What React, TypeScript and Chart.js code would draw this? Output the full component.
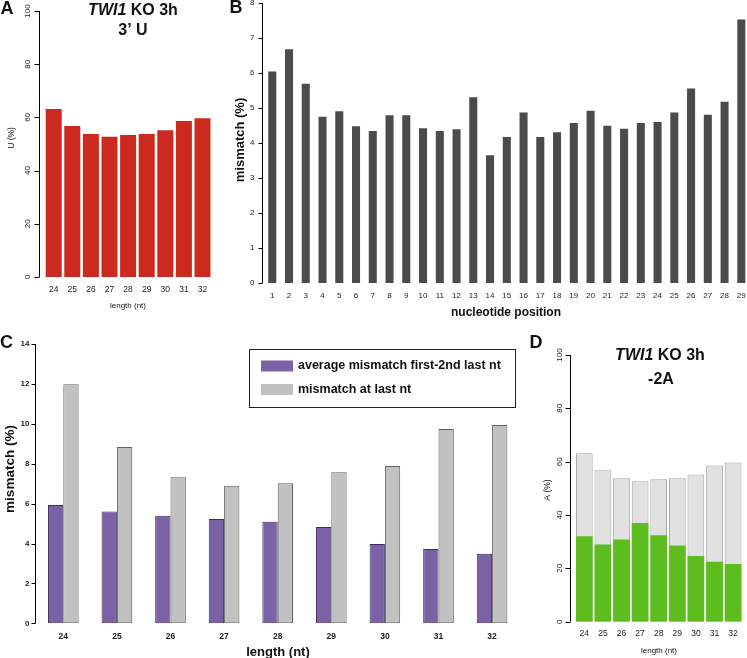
import React, { useEffect, useRef } from "react";
import { Chart, registerables } from "chart.js";

Chart.register(...registerables);

const FONT = "'Liberation Sans', Arial, Helvetica, sans-serif";
Chart.defaults.font.family = FONT;

// ---------- data ----------
const lengthLabels = ["24", "25", "26", "27", "28", "29", "30", "31", "32"];
// Panel A: 3' U (%)
const uPercent = [63.2, 56.8, 53.8, 52.7, 53.4, 53.8, 55.2, 58.6, 59.7];

// Panel B: mismatch by nucleotide position
const positionLabels = [
  "1", "2", "3", "4", "5", "6", "7", "8", "9", "10", "11", "12", "13", "14", "15",
  "16", "17", "18", "19", "20", "21", "22", "23", "24", "25", "26", "27", "28", "29",
];
const mismatchByPosition = [
  6.04, 6.68, 5.69, 4.75, 4.91, 4.48, 4.34, 4.79, 4.79, 4.42, 4.34, 4.39, 5.31, 3.65, 4.17,
  4.87, 4.17, 4.31, 4.57, 4.92, 4.49, 4.41, 4.57, 4.6, 4.87, 5.56, 4.81, 5.18, 7.53,
];

// Panel C: mismatch per length
const avgMismatch = [5.93, 5.6, 5.39, 5.23, 5.09, 4.83, 3.97, 3.72, 3.49];
const lastNtMismatch = [11.98, 8.84, 7.32, 6.9, 7.02, 7.57, 7.88, 9.74, 9.94];

// Panel D: -2A (%) over total
const dTotal = [63.2, 56.8, 53.8, 52.7, 53.4, 53.8, 55.2, 58.6, 59.7];
const aPercent = [32.0, 28.9, 30.8, 37.0, 32.4, 28.6, 24.6, 22.5, 21.6];

// ---------- layout helpers ----------
const CW = 752;
const CH = 658;
const XH = 30;

type Area = { l: number; t: number; r: number; b: number };

function layoutPadding(a: Area) {
  return { left: a.l, top: a.t, right: CW - a.r, bottom: CH - a.b - XH };
}

function xScale(fontSize: number, bold: boolean, pad: number, stacked = false) {
  return {
    type: "category" as const,
    offset: true,
    stacked,
    grid: { display: false, drawTicks: false },
    border: { display: false },
    ticks: {
      font: { size: fontSize, weight: bold ? "bold" : "normal", family: FONT },
      color: "#222",
      padding: pad,
      autoSkip: false,
      maxRotation: 0,
      minRotation: 0,
    },
    afterFit: (s: any) => {
      s.height = XH;
      s.paddingLeft = 0;
      s.paddingRight = 0;
    },
  };
}

function yScale(max: number, step: number) {
  return {
    display: false,
    min: 0,
    max,
    stacked: false,
    ticks: { stepSize: step },
  };
}

type AxisOpt = { gap: number; tickLen: number; rotate: boolean; labelDist: number; font: string };

function rAxisPlugin(o: AxisOpt) {
  return {
    id: "rAxis",
    afterDraw(chart: any) {
      const { ctx, chartArea } = chart;
      const ys = chart.scales.y;
      const x = Math.round(chartArea.left - o.gap) - 0.5;
      const vals: number[] = ys.ticks.map((t: any) => t.value);
      const top = ys.getPixelForValue(vals[vals.length - 1]);
      const bot = ys.getPixelForValue(vals[0]);
      ctx.save();
      ctx.strokeStyle = "#000";
      ctx.lineWidth = 1;
      ctx.beginPath();
      ctx.moveTo(x, top);
      ctx.lineTo(x, bot);
      vals.forEach((v) => {
        const py = Math.round(ys.getPixelForValue(v)) + 0.5;
        ctx.moveTo(x, py);
        ctx.lineTo(x - o.tickLen, py);
      });
      ctx.stroke();
      ctx.fillStyle = "#222";
      ctx.font = o.font;
      ctx.textBaseline = "middle";
      vals.forEach((v) => {
        const py = ys.getPixelForValue(v);
        if (o.rotate) {
          ctx.save();
          ctx.translate(x - o.labelDist, py);
          ctx.rotate(-Math.PI / 2);
          ctx.textAlign = "center";
          ctx.fillText(String(v), 0, 0);
          ctx.restore();
        } else {
          ctx.textAlign = "right";
          ctx.fillText(String(v), x - o.labelDist, py);
        }
      });
      ctx.restore();
    },
  };
}

type Part = { text: string; font: string };
type TextItem = { parts: Part[]; x: number; y: number; rotate?: boolean };

function textPlugin(items: TextItem[]) {
  return {
    id: "texts",
    afterDraw(chart: any) {
      const ctx = chart.ctx;
      ctx.save();
      ctx.fillStyle = "#111";
      ctx.textBaseline = "middle";
      ctx.textAlign = "left";
      for (const it of items) {
        let w = 0;
        for (const p of it.parts) {
          ctx.font = p.font;
          w += ctx.measureText(p.text).width;
        }
        ctx.save();
        ctx.translate(it.x, it.y);
        if (it.rotate) ctx.rotate(-Math.PI / 2);
        let cx = -w / 2;
        for (const p of it.parts) {
          ctx.font = p.font;
          ctx.fillText(p.text, cx, 0);
          cx += ctx.measureText(p.text).width;
        }
        ctx.restore();
      }
      ctx.restore();
    },
  };
}

const legendBoxPlugin = {
  id: "boxLegend",
  afterDraw(chart: any) {
    const ctx = chart.ctx;
    ctx.save();
    ctx.strokeStyle = "#222";
    ctx.lineWidth = 1;
    ctx.fillStyle = "#fff";
    ctx.fillRect(249.5, 349.5, 266, 58);
    ctx.strokeRect(249.5, 349.5, 266, 58);
    chart.data.datasets.forEach((ds: any, i: number) => {
      const cy = 366 + i * 23.5;
      ctx.fillStyle = ds.backgroundColor;
      ctx.fillRect(261, cy - 5.5, 32, 11);
      ctx.fillStyle = "#111";
      ctx.font = `bold 12.5px ${FONT}`;
      ctx.textBaseline = "middle";
      ctx.textAlign = "left";
      ctx.fillText(ds.label, 298, cy);
    });
    ctx.restore();
  },
};

const bold = (s: number) => `bold ${s}px ${FONT}`;
const boldItalic = (s: number) => `italic bold ${s}px ${FONT}`;
const normal = (s: number) => `${s}px ${FONT}`;

// ---------- chart configs ----------
const areaA: Area = { l: 44.4, t: 11, r: 211.8, b: 277 };
const areaB: Area = { l: 263.9, t: 3, r: 749.7, b: 283 };
const areaC: Area = { l: 36.5, t: 344, r: 518.9, b: 623.3 };
const areaD: Area = { l: 575, t: 355, r: 742.4, b: 621.7 };

function configA(): any {
  return {
    type: "bar",
    data: {
      labels: lengthLabels,
      datasets: [
        {
          label: "U (%)",
          data: uPercent,
          backgroundColor: "#cc2a1f",
          borderWidth: 0,
          barPercentage: 0.86,
          categoryPercentage: 1,
        },
      ],
    },
    options: {
      responsive: false,
      animation: false,
      layout: { padding: layoutPadding(areaA) },
      plugins: { legend: { display: false }, tooltip: { enabled: false } },
      scales: { x: xScale(8.5, false, 7.2), y: yScale(100, 20) },
    },
    plugins: [
      rAxisPlugin({ gap: 4.4, tickLen: 5, rotate: true, labelDist: 11.5, font: normal(8) }),
      textPlugin([
        { parts: [{ text: "A", font: bold(18) }], x: 7, y: 9 },
        { parts: [{ text: "TWI1", font: boldItalic(16) }, { text: " KO 3h", font: bold(16) }], x: 133, y: 10.5 },
        { parts: [{ text: "3’ U", font: bold(16) }], x: 133, y: 31 },
        { parts: [{ text: "U (%)", font: normal(8.5) }], x: 11.7, y: 138, rotate: true },
        { parts: [{ text: "length (nt)", font: normal(8) }], x: 128, y: 305.5 },
      ]),
    ],
  };
}

function configB(): any {
  return {
    type: "bar",
    data: {
      labels: positionLabels,
      datasets: [
        {
          label: "mismatch (%)",
          data: mismatchByPosition,
          backgroundColor: "#4b4b4b",
          borderWidth: 0,
          barPercentage: 0.48,
          categoryPercentage: 1,
        },
      ],
    },
    options: {
      responsive: false,
      animation: false,
      layout: { padding: layoutPadding(areaB) },
      plugins: { legend: { display: false }, tooltip: { enabled: false } },
      scales: { x: xScale(8, false, 8.2), y: yScale(8, 1) },
    },
    plugins: [
      rAxisPlugin({ gap: 0.5, tickLen: 4, rotate: false, labelDist: 8, font: normal(8) }),
      textPlugin([
        { parts: [{ text: "B", font: bold(18) }], x: 236, y: 8 },
        { parts: [{ text: "mismatch (%)", font: bold(13) }], x: 240, y: 140, rotate: true },
        { parts: [{ text: "nucleotide position", font: bold(12) }], x: 506, y: 313 },
      ]),
    ],
  };
}

function configC(): any {
  return {
    type: "bar",
    data: {
      labels: lengthLabels,
      datasets: [
        {
          label: "average mismatch first-2nd last nt",
          data: avgMismatch,
          backgroundColor: "#7b62a6",
          borderColor: "#3e3158",
          borderWidth: 1,
          borderSkipped: false,
          barPercentage: 1,
          categoryPercentage: 0.572,
        },
        {
          label: "mismatch at last nt",
          data: lastNtMismatch,
          backgroundColor: "#c1c1c1",
          borderColor: "#5e5e5e",
          borderWidth: 1,
          borderSkipped: false,
          barPercentage: 1,
          categoryPercentage: 0.572,
        },
      ],
    },
    options: {
      responsive: false,
      animation: false,
      layout: { padding: layoutPadding(areaC) },
      plugins: { legend: { display: false }, tooltip: { enabled: false } },
      scales: { x: xScale(8.5, true, 8.3), y: yScale(14, 2) },
    },
    plugins: [
      rAxisPlugin({ gap: 0.5, tickLen: 4, rotate: false, labelDist: 6, font: bold(8) }),
      legendBoxPlugin,
      textPlugin([
        { parts: [{ text: "C", font: bold(18) }], x: 6.5, y: 343 },
        { parts: [{ text: "mismatch (%)", font: bold(13.5) }], x: 10, y: 469, rotate: true },
        { parts: [{ text: "length (nt)", font: bold(13) }], x: 278, y: 652 },
      ]),
    ],
  };
}

function configD(): any {
  return {
    type: "bar",
    data: {
      labels: lengthLabels,
      datasets: [
        {
          label: "-2A (%)",
          data: aPercent,
          backgroundColor: "#5dbd1f",
          borderWidth: 0,
          barPercentage: 0.9,
          categoryPercentage: 1,
        },
        {
          label: "total (%)",
          data: dTotal,
          backgroundColor: "#e1e1e1",
          borderColor: "#a3a3a3",
          borderWidth: 1,
          borderSkipped: false,
          barPercentage: 0.9,
          categoryPercentage: 1,
        },
      ],
    },
    options: {
      responsive: false,
      animation: false,
      layout: { padding: layoutPadding(areaD) },
      plugins: { legend: { display: false }, tooltip: { enabled: false } },
      scales: { x: xScale(8.5, false, 6.5, true), y: yScale(100, 20) },
    },
    plugins: [
      rAxisPlugin({ gap: 4.3, tickLen: 5, rotate: true, labelDist: 11, font: normal(8) }),
      textPlugin([
        { parts: [{ text: "D", font: bold(18) }], x: 536, y: 343 },
        { parts: [{ text: "TWI1", font: boldItalic(16) }, { text: " KO 3h", font: bold(16) }], x: 660, y: 356 },
        { parts: [{ text: "-2A", font: bold(16) }], x: 661, y: 380 },
        { parts: [{ text: "A (%)", font: normal(8.5) }], x: 548, y: 490, rotate: true },
        { parts: [{ text: "length (nt)", font: normal(8) }], x: 659, y: 651 },
      ]),
    ],
  };
}

export default function App() {
  const refA = useRef<HTMLCanvasElement>(null);
  const refB = useRef<HTMLCanvasElement>(null);
  const refC = useRef<HTMLCanvasElement>(null);
  const refD = useRef<HTMLCanvasElement>(null);

  useEffect(() => {
    const charts = [
      new Chart(refA.current!, configA()),
      new Chart(refB.current!, configB()),
      new Chart(refC.current!, configC()),
      new Chart(refD.current!, configD()),
    ];
    return () => charts.forEach((c) => c.destroy());
  }, []);

  const cStyle: React.CSSProperties = {
    position: "absolute",
    left: 0,
    top: 0,
    width: CW,
    height: CH,
  };

  return (
    <div
      style={{
        position: "absolute",
        left: 0,
        top: 0,
        width: 747,
        height: 658,
        overflow: "hidden",
        background: "#fff",
      }}
    >
      <canvas ref={refA} width={CW} height={CH} style={cStyle} />
      <canvas ref={refB} width={CW} height={CH} style={cStyle} />
      <canvas ref={refC} width={CW} height={CH} style={cStyle} />
      <canvas ref={refD} width={CW} height={CH} style={cStyle} />
    </div>
  );
}
